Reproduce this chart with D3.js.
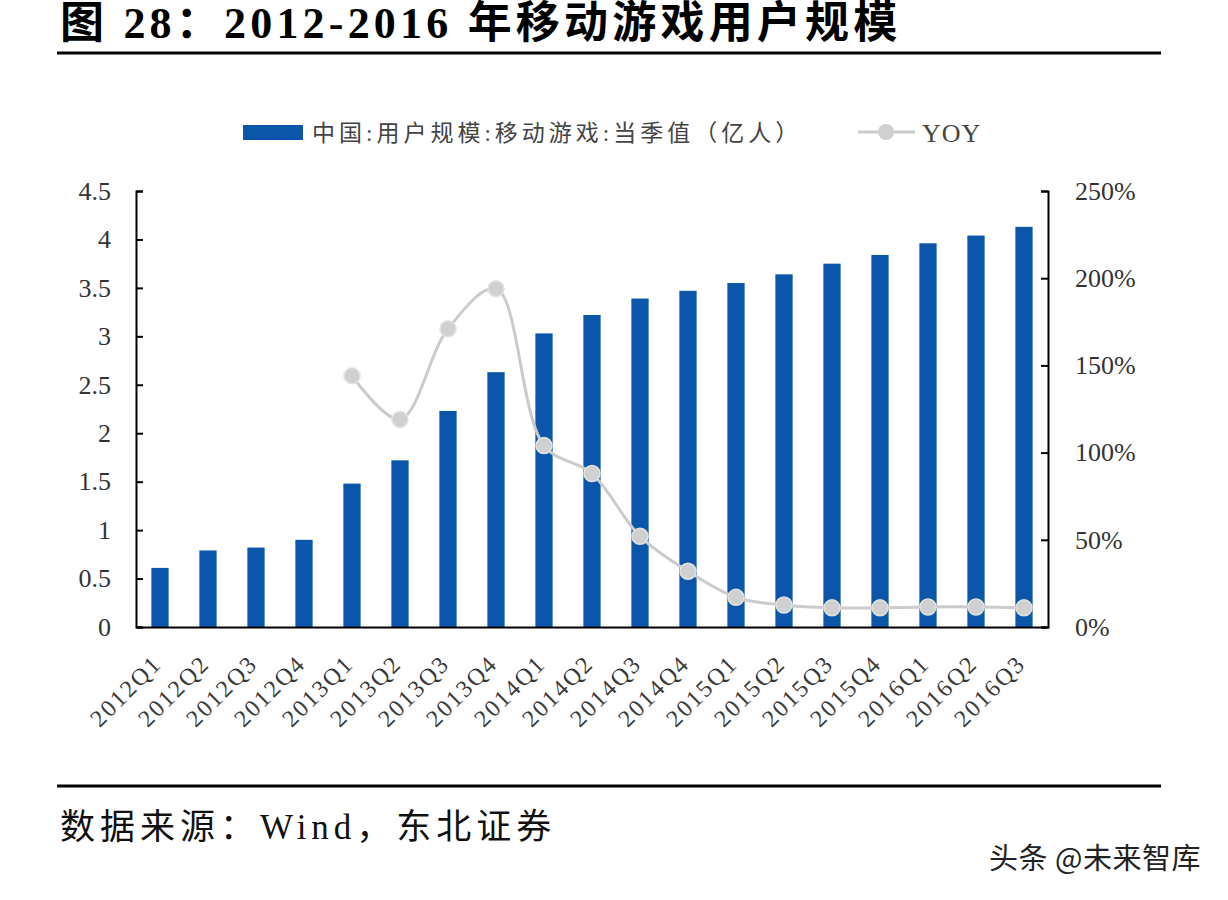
<!DOCTYPE html>
<html>
<head>
<meta charset="utf-8">
<script src="https://cdn.jsdelivr.net/npm/d3@7/dist/d3.min.js"></script>
<style>
  body { margin: 0; background: #fff; }
  svg { display: block; }
</style>
</head>
<body>
<div id="chart"></div>
<script>
'use strict';

const quarters = ['2012Q1','2012Q2','2012Q3','2012Q4','2013Q1','2013Q2','2013Q3','2013Q4',
  '2014Q1','2014Q2','2014Q3','2014Q4','2015Q1','2015Q2','2015Q3','2015Q4','2016Q1','2016Q2','2016Q3'];
const users = [0.61, 0.79, 0.82, 0.90, 1.48, 1.72, 2.23, 2.63, 3.03, 3.22, 3.39, 3.47,
  3.55, 3.64, 3.75, 3.84, 3.96, 4.04, 4.13];
// YOY in %, null where there is no prior-year quarter
const yoy = [null, null, null, null, 144, 119, 171, 194, 104, 88, 52, 32,
  17, 12.6, 11, 11, 11.5, 11.5, 11];
const leftTicks = [0, 0.5, 1, 1.5, 2, 2.5, 3, 3.5, 4, 4.5];
const rightTicks = [0, 50, 100, 150, 200, 250];

const W = 1228, H = 900;
const margin = { top: 191, right: 180, bottom: 273, left: 136 };
const width = W - margin.left - margin.right;
const height = H - margin.top - margin.bottom;

const serif = '"Liberation Serif", "Times New Roman", "Noto Sans CJK SC", serif';
const barColor = '#0b56a8';
const lineColor = '#cbcbcb';

const svg = d3.select('#chart').append('svg')
    .attr('width', W)
    .attr('height', H);

// title + rules
svg.append('text')
    .attr('x', 60)
    .attr('y', 38)
    .attr('font-family', serif)
    .attr('font-weight', 'bold')
    .attr('font-size', 44)
    .attr('letter-spacing', 4.2)
    .attr('fill', '#000')
    .text('图 28：2012-2016 年移动游戏用户规模');

svg.append('line')
    .attr('x1', 57).attr('x2', 1161)
    .attr('y1', 53).attr('y2', 53)
    .attr('stroke', '#000').attr('stroke-width', 3);

svg.append('line')
    .attr('x1', 57).attr('x2', 1161)
    .attr('y1', 786).attr('y2', 786)
    .attr('stroke', '#000').attr('stroke-width', 3);

svg.append('text')
    .attr('x', 60)
    .attr('y', 839)
    .attr('font-family', serif)
    .attr('font-size', 35)
    .attr('letter-spacing', 5)
    .attr('fill', '#111')
    .text('数据来源：Wind，东北证券');

svg.append('text')
    .attr('x', 1201)
    .attr('y', 869)
    .attr('text-anchor', 'end')
    .attr('font-family', '"Noto Sans CJK SC", sans-serif')
    .attr('font-size', 29)
    .attr('letter-spacing', 0.5)
    .attr('fill', '#222')
    .text('头条 @未来智库');

// legend
const legend = svg.append('g');
legend.append('rect')
    .attr('x', 243).attr('y', 125)
    .attr('width', 60).attr('height', 15)
    .attr('fill', barColor);
legend.append('text')
    .attr('x', 312).attr('y', 141)
    .attr('font-family', serif)
    .attr('font-size', 23)
    .attr('letter-spacing', 4)
    .attr('fill', '#444')
    .text('中国:用户规模:移动游戏:当季值（亿人）');
legend.append('line')
    .attr('x1', 858).attr('x2', 915)
    .attr('y1', 132).attr('y2', 132)
    .attr('stroke', lineColor).attr('stroke-width', 3);
legend.append('circle')
    .attr('cx', 886).attr('cy', 132).attr('r', 8)
    .attr('fill', '#d0d0d0');
legend.append('text')
    .attr('x', 922).attr('y', 142)
    .attr('font-family', serif)
    .attr('font-size', 26)
    .attr('letter-spacing', 1)
    .attr('fill', '#444')
    .text('YOY');

const g = svg.append('g')
    .attr('transform', `translate(${margin.left}, ${margin.top})`);

const x = d3.scaleBand()
    .domain(quarters)
    .range([0, width])
    .paddingInner(0.64)
    .paddingOuter(0.32);

const yL = d3.scaleLinear().domain([0, 4.5]).range([height, 0]);
const yR = d3.scaleLinear().domain([0, 250]).range([height, 0]);

// bars
g.selectAll('.bar')
    .data(users)
  .enter().append('rect')
    .attr('class', 'bar')
    .attr('x', (d, i) => x(quarters[i]))
    .attr('y', d => yL(d))
    .attr('width', x.bandwidth())
    .attr('height', d => height - yL(d))
    .attr('fill', barColor);

// axes
const styleAxis = (sel) => {
  sel.select('.domain').attr('stroke', '#000').attr('stroke-width', 2);
  sel.selectAll('.tick line').attr('stroke', '#000').attr('stroke-width', 2);
  sel.selectAll('.tick text')
      .attr('font-family', serif)
      .attr('font-size', 26)
      .attr('fill', '#333');
};

g.append('g')
    .call(d3.axisLeft(yL).tickValues(leftTicks).tickSize(-7).tickSizeOuter(-7)
      .tickPadding(25).tickFormat(d3.format('')))
    .call(styleAxis);

g.append('g')
    .attr('transform', `translate(${width}, 0)`)
    .call(d3.axisRight(yR).tickValues(rightTicks).tickSize(-7).tickSizeOuter(-7)
      .tickPadding(27).tickFormat(d => d + '%'))
    .call(styleAxis);

const xAxis = g.append('g')
    .attr('transform', `translate(0, ${height})`)
    .call(d3.axisBottom(x).tickSize(0).tickSizeOuter(0).tickPadding(0));
xAxis.select('.domain').attr('stroke', '#000').attr('stroke-width', 2);
xAxis.selectAll('.tick text')
    .attr('font-family', serif)
    .attr('font-size', 24)
    .attr('letter-spacing', 2)
    .attr('fill', '#3a3a3a')
    .attr('text-anchor', 'end')
    .attr('dy', 0)
    .attr('transform', 'translate(3, 38) rotate(-45)');

// YOY line
const pts = yoy.map((v, i) => ({ q: quarters[i], v })).filter(d => d.v !== null);
const line = d3.line()
    .x(d => x(d.q) + x.bandwidth() / 2)
    .y(d => yR(d.v))
    .curve(d3.curveCatmullRom.alpha(0.5));

g.append('path')
    .datum(pts)
    .attr('d', line)
    .attr('fill', 'none')
    .attr('stroke', lineColor)
    .attr('stroke-width', 3);

g.selectAll('.dot')
    .data(pts)
  .enter().append('circle')
    .attr('class', 'dot')
    .attr('cx', d => x(d.q) + x.bandwidth() / 2)
    .attr('cy', d => yR(d.v))
    .attr('r', 8)
    .attr('fill', '#d0d0d0')
    .attr('stroke', '#e2e2e2')
    .attr('stroke-width', 1.5);
</script>
</body>
</html>
